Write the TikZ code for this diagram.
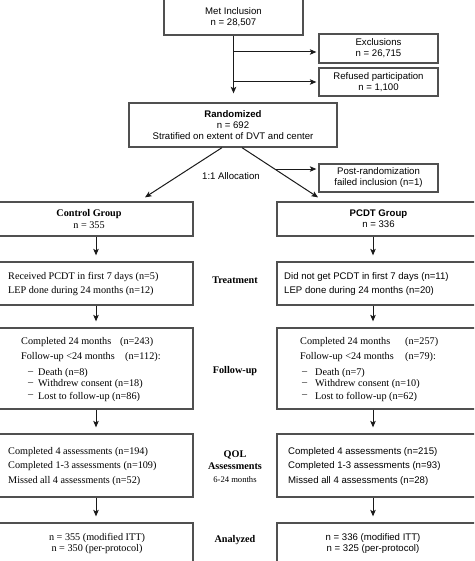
\documentclass[tikz,border=0pt]{standalone}
\usepackage{fontspec}
\setmainfont{Liberation Serif}
\setsansfont{Liberation Sans}
\usetikzlibrary{calc,arrows.meta}
\definecolor{boxgray}{HTML}{505050}
\definecolor{linegray}{HTML}{1A1A1A}
\begin{document}
\begin{tikzpicture}[x=1pt,y=-1pt,
 box/.style={draw=boxgray,line width=1.3pt,rectangle,inner sep=0pt,align=center},
 sa/.style={font=\sffamily\fontsize{9.6}{11}\selectfont},
 se/.style={font=\fontsize{10.2}{12}\selectfont},
 tl/.style={anchor=west,inner sep=0pt},
 tc/.style={inner sep=0pt},
 arr/.style={draw=linegray,line width=1pt,-{Stealth[length=6.5pt,width=5.5pt,inset=1.5pt]}},
 lbl/.style={font=\bfseries\fontsize{10.2}{12}\selectfont,inner sep=0pt,align=center}
]
\useasboundingbox (0,0) rectangle (474,561);
\clip (0,0) rectangle (474,561);
% top boxes
\node[box,minimum width=139,minimum height=55] (met) at (233.5,7.5) {};
\node[sa,tc,align=center] (mett) at (233.5,17.5) {Met Inclusion\\n = 28,507};
\node[box,sa,minimum width=119,minimum height=29] (excl) at (378.5,48.5) {Exclusions\\n = 26,715};
\node[box,sa,minimum width=119,minimum height=28] (refu) at (378.5,82) {Refused participation\\n = 1,100};
\node[box,sa,minimum width=208,minimum height=44] (rand) at (233,125) {\textbf{Randomized}\\n = 692\\Stratified on extent of DVT and center};
\node[box,sa,minimum width=119,minimum height=28] (post) at (378.5,178) {Post-randomization\\failed inclusion (n=1)};
\node[sa,tc] (alloc) at (231,176) {1:1 Allocation};
% group boxes
\node[box,se,minimum width=208,minimum height=34] (ctrl) at (89,219) {\textbf{Control Group}\\n = 355};
\node[box,sa,minimum width=203,minimum height=34] (pcdt) at (378.5,219) {\textbf{PCDT Group}\\n = 336};
\node[box,minimum width=208,minimum height=43] (ctrlT) at (89,283.5) {};
\node[box,minimum width=203,minimum height=43] (pcdtT) at (378.5,283.5) {};
\node[box,minimum width=208,minimum height=81] (ctrlF) at (89,368.5) {};
\node[box,minimum width=203,minimum height=81] (pcdtF) at (378.5,368.5) {};
\node[box,minimum width=208,minimum height=63] (ctrlQ) at (89,465.5) {};
\node[box,minimum width=203,minimum height=63] (pcdtQ) at (378.5,465.5) {};
\node[box,minimum width=208,minimum height=60] (ctrlA) at (89,553) {};
\node[box,minimum width=203,minimum height=60] (pcdtA) at (378.5,553) {};
% treatment texts
\node[se,tl] (t1) at (8,277) {Received PCDT in first 7 days (n=5)};
\node[se,tl] (t2) at (8,291) {LEP done during 24 months (n=12)};
\node[sa,tl] (t3) at (284,277) {Did not get PCDT in first 7 days (n=11)};
\node[sa,tl] (t4) at (284,291) {LEP done during 24 months (n=20)};
% follow-up texts
\node[se,tl] (f1) at (21,342) {Completed 24 months};
\node[se,tl] (f1n) at (120,342) {(n=243)};
\node[se,tl] (f2) at (21,357) {Follow-up <24 months};
\node[se,tl] (f2n) at (125,357) {(n=112):};
\node[se,tl] (f3d) at (28,373) {--};
\node[se,tl] (f3) at (38,373) {Death (n=8)};
\node[se,tl] (f4d) at (28,384.5) {--};
\node[se,tl] (f4) at (38,384.5) {Withdrew consent (n=18)};
\node[se,tl] (f5d) at (28,396.5) {--};
\node[se,tl] (f5) at (38,396.5) {Lost to follow-up (n=86)};
\node[se,tl] (g1) at (300,342) {Completed 24 months};
\node[se,tl] (g1n) at (405,342) {(n=257)};
\node[se,tl] (g2) at (300,357) {Follow-up <24 months};
\node[se,tl] (g2n) at (405,357) {(n=79):};
\node[se,tl] (g3d) at (302,373) {--};
\node[se,tl] (g3) at (315,373) {Death (n=7)};
\node[se,tl] (g4d) at (302,384.5) {--};
\node[se,tl] (g4) at (315,384.5) {Withdrew consent (n=10)};
\node[se,tl] (g5d) at (302,396.5) {--};
\node[se,tl] (g5) at (315,396.5) {Lost to follow-up (n=62)};
% QOL texts
\node[se,tl] (q1) at (8,452) {Completed 4 assessments (n=194)};
\node[se,tl] (q2) at (8,466.5) {Completed 1-3 assessments (n=109)};
\node[se,tl] (q3) at (8,481.5) {Missed all 4 assessments (n=52)};
\node[sa,tl] (r1) at (288,452) {Completed 4 assessments (n=215)};
\node[sa,tl] (r2) at (288,466.5) {Completed 1-3 assessments (n=93)};
\node[sa,tl] (r3) at (288,481.5) {Missed all 4 assessments (n=28)};
% analyzed texts
\node[se,tc] (a1) at (97,538) {n = 355 (modified ITT)};
\node[se,tc] (a2) at (97,549) {n = 350 (per-protocol)};
\node[sa,tc] (b1) at (373,538) {n = 336 (modified ITT)};
\node[sa,tc] (b2) at (373,549) {n = 325 (per-protocol)};
% middle labels
\node[lbl] (lt) at (235,280) {Treatment};
\node[lbl] (lf) at (235,371) {Follow-up};
\node[lbl] (lq) at (235,460) {QOL\\Assessments};
\node[tc,font=\fontsize{8.6}{10}\selectfont] (lq2) at (235,480) {6-24 months};
\node[lbl] (la) at (235,540) {Analyzed};
% connectors
\draw[arr,shorten >=9pt] (met.south) -- (met.south |- rand.north);
\coordinate (b1p) at (met.south |- 0,52);
\coordinate (b2p) at (met.south |- 0,82);
\draw[arr,shorten >=2pt] (b1p) -- (b1p -| excl.west);
\draw[arr,shorten >=2pt] (b2p) -- (b2p -| refu.west);
\coordinate (ls) at ($(rand.south)+(-11,0)$);
\coordinate (rs) at ($(rand.south)+(9,0)$);
\coordinate (le) at ($(ctrl.north)+(56,-4)$);
\coordinate (re) at ($(pcdt.north)+(-60.5,-4)$);
\draw[arr] (ls) -- (le);
\draw[arr] (rs) -- (re);
\coordinate (pb) at ($(rs)!0.43!(re)$);
\draw[arr,shorten >=2pt] (pb) -- (pb -| post.west);
\foreach \a/\b in {ctrl/ctrlT,ctrlT/ctrlF,ctrlF/ctrlQ,ctrlQ/ctrlA}{
  \draw[arr,shorten >=6pt] ([xshift=7pt]\a.south) -- ([xshift=7pt]\a.south |- \b.north);
}
\foreach \a/\b in {pcdt/pcdtT,pcdtT/pcdtF,pcdtF/pcdtQ,pcdtQ/pcdtA}{
  \draw[arr,shorten >=6pt] ([xshift=-5.5pt]\a.south) -- ([xshift=-5.5pt]\a.south |- \b.north);
}
\end{tikzpicture}
\end{document}
